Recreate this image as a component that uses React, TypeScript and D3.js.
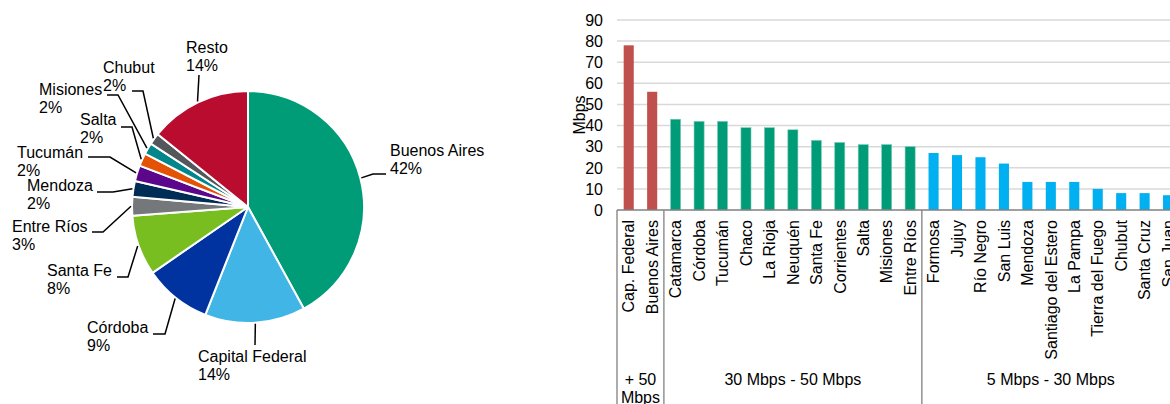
import React from "react";
import * as d3 from "d3";

// ---------- Pie data ----------
const pieNames = ["Buenos Aires", "Capital Federal", "Córdoba", "Santa Fe", "Entre Ríos", "Mendoza", "Tucumán", "Salta", "Misiones", "Chubut", "Resto"];
const pieValues = [42.0, 14.0, 9.4, 8.4, 2.6, 2.2, 2.2, 1.8, 1.6, 1.6, 14.2];
const pieColors = ["#009B77", "#41B6E6", "#0033A0", "#78BE20", "#75787B", "#002D56", "#5C068C", "#E35205", "#00868B", "#53565A", "#BA0C2F"];

// ---------- Bar data ----------
const barCategories = ["Cap. Federal", "Buenos Aires", "Catamarca", "Córdoba", "Tucumán", "Chaco", "La Rioja", "Neuquén", "Santa Fe", "Corrientes", "Salta", "Misiones", "Entre Ríos", "Formosa", "Jujuy", "Río Negro", "San Luis", "Mendoza", "Santiago del Estero", "La Pampa", "Tierra del Fuego", "Chubut", "Santa Cruz", "San Juan"];
const barValues = [78, 56, 43, 42, 42, 39, 39, 38, 33, 32, 31, 31, 30, 27, 26, 25, 22, 13.3, 13.3, 13.3, 10, 8, 8, 7];
const barTier = [0, 0, 1, 1, 1, 1, 1, 1, 1, 1, 1, 1, 1, 2, 2, 2, 2, 2, 2, 2, 2, 2, 2, 2];
const tierLabels = [["+ 50", "Mbps"], ["30 Mbps - 50 Mbps"], ["5 Mbps - 30 Mbps"]];
const tierColors = ["#C0504D", "#009B77", "#00B0F0"];
const yTicks = [0, 10, 20, 30, 40, 50, 60, 70, 80, 90];
const yTitle = "Mbps";

// ---------- Layout (label placement for pie, not data) ----------
const pieLabelLayout: Record<string, { tx: number; ty: number; elbow: [number, number]; end: [number, number] }> = {
  "Buenos Aires": { tx: 390, ty: 156, elbow: [373, 174], end: [386, 174] },
  "Capital Federal": { tx: 198, ty: 362, elbow: [255, 345], end: [255, 345] },
  "Córdoba": { tx: 87, ty: 333, elbow: [165, 334], end: [153, 334] },
  "Santa Fe": { tx: 47, ty: 276, elbow: [128, 277], end: [117, 277] },
  "Entre Ríos": { tx: 12, ty: 232, elbow: [103, 232], end: [92, 232] },
  "Mendoza": { tx: 27, ty: 191, elbow: [113, 192], end: [97, 192] },
  "Tucumán": { tx: 17, ty: 158, elbow: [110, 157], end: [88, 157] },
  "Salta": { tx: 80, ty: 125, elbow: [132, 127], end: [121, 127] },
  "Misiones": { tx: 39, ty: 95, elbow: [118, 95], end: [107, 95] },
  "Chubut": { tx: 103, ty: 73, elbow: [143, 91], end: [132, 91] },
  "Resto": { tx: 186, ty: 53, elbow: [199, 75], end: [199, 75] },
};

const FONT = "Arial, 'Liberation Sans', sans-serif";

export default function App() {
  // Pie
  const cx = 248, cy = 207, r = 116;
  const pie = d3.pie<number>().sort(null).value((d) => d).startAngle(0).endAngle(2 * Math.PI);
  const arcs = pie(pieValues);
  const arcGen = d3.arc<d3.PieArcDatum<number>>().innerRadius(0).outerRadius(r);

  // Bars
  const x0 = 617, step = 23.45;
  const x = d3.scaleBand<string>().domain(barCategories).range([x0, x0 + step * barCategories.length]).paddingInner(0.57).paddingOuter(0.285);
  const y = d3.scaleLinear().domain([0, 90]).range([210, 20]);
  const bandStep = x.step();

  // tier boundaries
  const tierRanges: { tier: number; start: number; end: number }[] = [];
  barTier.forEach((t, i) => {
    const s = x0 + i * bandStep;
    const last = tierRanges[tierRanges.length - 1];
    if (!last || last.tier !== t) tierRanges.push({ tier: t, start: s, end: s + bandStep });
    else last.end = s + bandStep;
  });

  return (
    <svg width={1170} height={404} style={{ position: "absolute", left: 0, top: 0, background: "#fff" }} fontFamily={FONT}>
      <rect x={0} y={0} width={1170} height={404} fill="#fff" />
      {/* Pie */}
      <g transform={`translate(${cx},${cy})`}>
        {arcs.map((a, i) => (
          <path key={i} d={arcGen(a) as string} fill={pieColors[i]} stroke="#fff" strokeWidth={2} strokeLinejoin="round" />
        ))}
      </g>
      {arcs.map((a, i) => {
        const name = pieNames[i];
        const L = pieLabelLayout[name];
        const mid = (a.startAngle + a.endAngle) / 2;
        const px = cx + (r + 1) * Math.sin(mid);
        const py = cy - (r + 1) * Math.cos(mid);
        const pts = [[px, py], L.elbow, L.end];
        return (
          <g key={name}>
            <polyline points={pts.map((p) => p.join(",")).join(" ")} fill="none" stroke="#000" strokeWidth={1.5} />
            <text x={L.tx} y={L.ty} fontSize={16} fill="#000">
              <tspan x={L.tx} y={L.ty}>{name}</tspan>
              <tspan x={L.tx} y={L.ty + 17.5}>{Math.round(pieValues[i]) + "%"}</tspan>
            </text>
          </g>
        );
      })}

      {/* Bar chart gridlines */}
      {yTicks.filter((t) => t > 0).map((t) => (
        <line key={t} x1={x0} x2={1170} y1={y(t)} y2={y(t)} stroke="#D9D9D9" strokeWidth={1.5} />
      ))}
      {yTicks.map((t) => (
        <text key={t} x={603} y={y(t)} dy="0.36em" textAnchor="end" fontSize={16} fill="#000">{t}</text>
      ))}
      <text transform={`translate(585,115) rotate(-90)`} textAnchor="middle" fontSize={16} fill="#000">{yTitle}</text>

      {/* Bars */}
      {barCategories.map((c, i) => (
        <rect key={c} x={x(c)} y={y(barValues[i])} width={x.bandwidth()} height={y(0) - y(barValues[i])} fill={tierColors[barTier[i]]} stroke={barTier[i] === 1 ? "#7fcdbb" : "none"} strokeWidth={barTier[i] === 1 ? 0.6 : 0} />
      ))}

      {/* Axis line */}
      <line x1={x0} x2={1170} y1={y(0)} y2={y(0)} stroke="#808080" strokeWidth={1.5} />

      {/* Category labels */}
      {barCategories.map((c) => (
        <text key={c} transform={`translate(${(x(c) as number) + x.bandwidth() / 2},220) rotate(-90)`} dy="0.36em" textAnchor="end" fontSize={16} fill="#000">{c}</text>
      ))}

      {/* Tier separators and labels */}
      {tierRanges.map((tr) => (
        <line key={"s" + tr.tier} x1={tr.start} x2={tr.start} y1={y(0)} y2={404} stroke="#808080" strokeWidth={1.3} />
      ))}
      {tierRanges.map((tr) => (
        <text key={"t" + tr.tier} textAnchor="middle" fontSize={16} fill="#000">
          {tierLabels[tr.tier].map((line, j) => (
            <tspan key={j} x={(tr.start + tr.end) / 2} y={385 + j * 17.5}>{line}</tspan>
          ))}
        </text>
      ))}
    </svg>
  );
}
